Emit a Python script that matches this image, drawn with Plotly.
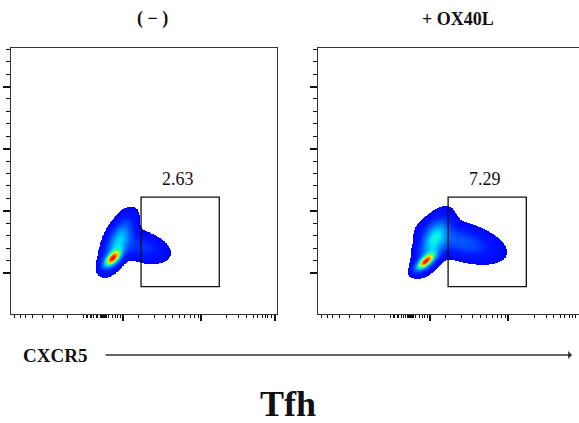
import numpy as np
import plotly.graph_objects as go

# ---------------- values ----------------
conditions = ["( − )", "+ OX40L"]          # panel titles
gate_pct = ["2.63", "7.29"]                # % of cells in the CXCR5+ gate
gate_x = [489, 783]                        # gate bounds on CXCR5 (display channel)
gate_y = [-0.22, 1.22]                     # gate bounds on the vertical parameter
x_label = "CXCR5"
big_label = "Tfh"

# population shape, estimated from each density blob
# (centre x, centre y, spread x, spread y, tilt, weight)
neg_cx = [382, 404, 494]
neg_cy = [0.23, 0.50, 0.42]
neg_sx = [22, 35, 58]
neg_sy = [0.09, 0.25, 0.15]
neg_rho = [0.6, 0.6, -0.35]
neg_w = [1.0, 0.55, 0.22]

pos_cx = [404, 433, 543]
pos_cy = [0.18, 0.50, 0.50]
pos_sx = [24, 37, 83]
pos_sy = [0.09, 0.25, 0.18]
pos_rho = [0.7, 0.55, -0.45]
pos_w = [1.0, 0.55, 0.30]

# axis tick marks (display units)
x_major = [421, 714, 992]
x_minor = [15, 34, 53, 79, 120, 158, 214, 271, 282, 289, 297, 304, 312, 320, 327,
           335, 339, 342, 345, 348, 350, 352, 355, 357, 360, 368, 380, 391, 402, 413,
           481, 538, 579, 609, 635, 654, 673, 688, 703,
           812, 857, 887, 910, 925, 944, 955, 966, 981]
y_major = [0, 1, 2, 3]
y_minor = [0.2, 0.4, 0.6, 0.8, 1.2, 1.4, 1.6, 1.8, 2.2, 2.4, 2.6, 2.8, 3.2, 3.4, 3.6]

X_RANGE_L = [0, 1000]
X_RANGE_R = [0, 981]
Y_RANGE = [-0.66, 3.62]

W, H = 579, 423
FONT = "Liberation Serif"


def density(cx, cy, sx, sy, rho, w):
    gx = np.arange(250, 800, 2.5)
    gy = np.arange(-0.35, 1.4, 0.008)
    X, Y = np.meshgrid(gx, gy)
    d = np.zeros_like(X)
    for a, b, s1, s2, r, ww in zip(cx, cy, sx, sy, rho, w):
        u = (X - a) / s1
        v = (Y - b) / s2
        q = (u * u - 2 * r * u * v + v * v) / (1 - r * r)
        d += ww * np.exp(-0.5 * q)
    d = d / d.max()
    thr = 0.03
    t = np.clip(d, 0, 1) ** 0.42
    t = np.where(d < thr, np.nan, t)
    return gx, gy, np.round(t, 3)


colorscale = [
    [0.00, "#0000ff"], [0.25, "#0018ff"], [0.45, "#0060ff"], [0.60, "#00b0ff"],
    [0.68, "#00f0f0"], [0.76, "#40ff60"], [0.85, "#ffff00"], [0.92, "#ff8000"],
    [1.00, "#ff0000"],
]

fig = go.Figure()
pops = [(neg_cx, neg_cy, neg_sx, neg_sy, neg_rho, neg_w),
        (pos_cx, pos_cy, pos_sx, pos_sy, pos_rho, pos_w)]
for i, p in enumerate(pops):
    gx, gy, z = density(*p)
    sfx = "" if i == 0 else "2"
    fig.add_trace(go.Heatmap(
        x=gx, y=gy, z=z, colorscale=colorscale, zmin=0.22, zmax=1,
        showscale=False, hoverinfo="skip", zsmooth=False,
        xaxis="x" + sfx, yaxis="y" + sfx))
    fig.add_shape(type="rect", xref="x" + sfx, yref="y" + sfx,
                  x0=gate_x[0], x1=gate_x[1], y0=gate_y[0], y1=gate_y[1],
                  line=dict(color="#111", width=1.3))
    fig.add_annotation(xref="x" + sfx, yref="y" + sfx,
                       x=(gate_x[0] + gate_x[1]) / 2 - 10, y=gate_y[1] + 0.29,
                       text=gate_pct[i], showarrow=False,
                       font=dict(family=FONT, size=18, color="#111"))

# panel titles
title_x = [152, 458]
for i, t in enumerate(conditions):
    fig.add_annotation(xref="paper", yref="paper", x=title_x[i] / W, y=1 - 19 / H,
                       text="<b>" + t + "</b>", showarrow=False,
                       xanchor="center", yanchor="middle",
                       font=dict(family=FONT, size=18, color="#111"))

# CXCR5 label and arrow
fig.add_annotation(xref="paper", yref="paper", x=55 / W, y=1 - 355 / H,
                   text="<b>" + x_label + "</b>", showarrow=False,
                   xanchor="center", yanchor="middle",
                   font=dict(family=FONT, size=19, color="#111"))
fig.add_annotation(xref="paper", yref="paper", x=572 / W, y=1 - 355 / H,
                   ax=-468, ay=0, text="", showarrow=True,
                   arrowhead=1, arrowsize=1, arrowwidth=1.3, arrowcolor="#333")

fig.add_annotation(xref="paper", yref="paper", x=288 / W, y=1 - 404 / H,
                   text="<b>" + big_label + "</b>", showarrow=False,
                   xanchor="center", yanchor="middle",
                   font=dict(family=FONT, size=36, color="#111"))

xdom_l = [11 / W, 277 / W]
xdom_r = [318 / W, 1.0]
ydom = [1 - 314 / H, 1 - 48 / H]

xcommon = dict(showgrid=False, zeroline=False, showticklabels=False,
               showline=True, linecolor="#333", linewidth=1.3, mirror=True,
               ticks="outside", tickmode="array", tickvals=x_major,
               ticklen=6, tickwidth=1.6, tickcolor="#111",
               minor=dict(tickmode="array", tickvals=x_minor, ticks="outside",
                          ticklen=3, tickwidth=1, tickcolor="#111"))
ycommon = dict(showgrid=False, zeroline=False, showticklabels=False,
               showline=True, linecolor="#333", linewidth=1.3,
               ticks="outside", tickmode="array", tickvals=y_major,
               ticklen=7, tickwidth=2, tickcolor="#111",
               minor=dict(tickmode="array", tickvals=y_minor, ticks="outside",
                          ticklen=4, tickwidth=1, tickcolor="#111"),
               range=Y_RANGE)

fig.update_layout(
    width=W, height=H, margin=dict(l=0, r=0, t=0, b=0),
    paper_bgcolor="white", plot_bgcolor="white", showlegend=False,
    xaxis=dict(xcommon, domain=xdom_l, range=X_RANGE_L, anchor="y"),
    xaxis2=dict(xcommon, domain=xdom_r, range=X_RANGE_R, anchor="y2"),
    yaxis=dict(ycommon, domain=ydom, anchor="x", mirror=True),
    yaxis2=dict(ycommon, domain=ydom, anchor="x2", mirror=False),
)

fig.write_html("out.html", config={"displayModeBar": False},
               post_script="document.body.style.margin='0';"
                           "document.body.style.padding='0';")
